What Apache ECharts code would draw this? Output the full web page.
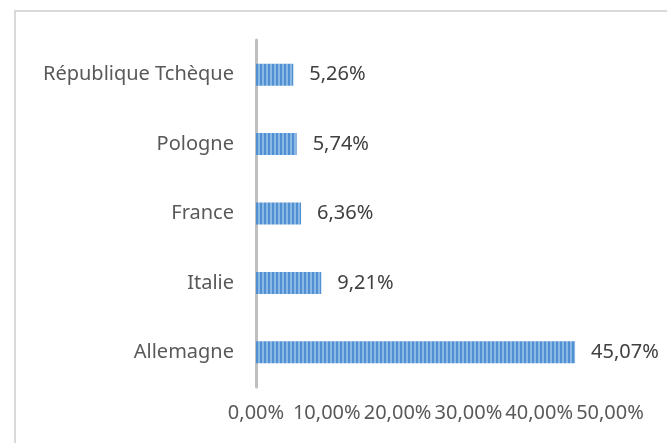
<!DOCTYPE html>
<html>
<head>
<meta charset="utf-8">
<script src="https://cdn.jsdelivr.net/npm/echarts@6/dist/echarts.min.js"></script>
<style>
  html, body { margin: 0; padding: 0; background: #fff; }
  #chart { width: 667px; height: 443px; }
</style>
</head>
<body>
<div id="chart"></div>
<script>
// pays, du bas vers le haut
const categories = ['Allemagne', 'Italie', 'France', 'Pologne', 'République Tchèque'];
const values = [45.07, 9.21, 6.36, 5.74, 5.26];
const ticks = [0, 10, 20, 30, 40, 50];

const fmt = v => v.toFixed(2).replace('.', ',') + '%';

// motif à rayures verticales
const pat = document.createElement('canvas');
pat.width = 4;
pat.height = 4;
const ctx = pat.getContext('2d');
ctx.fillStyle = '#8ab8e4';
ctx.fillRect(0, 0, 4, 4);
ctx.fillStyle = '#4f8fd2';
ctx.fillRect(0, 0, 2, 4);

const chart = echarts.init(document.getElementById('chart'));
chart.setOption({
    backgroundColor: '#fff',
    animation: false,
    textStyle: { fontFamily: 'Noto Sans' },
    graphic: [{
        type: 'rect',
        shape: { x: 15, y: 11, width: 660, height: 500 },
        style: { fill: 'none', stroke: '#d9d9d9', lineWidth: 2 },
        silent: true
    }],
    grid: { left: 256, right: 57, top: 40, bottom: 56 },
    xAxis: {
        type: 'value',
        min: ticks[0],
        max: ticks[ticks.length - 1],
        interval: 10,
        axisLine: { show: false },
        axisTick: { show: false },
        splitLine: { show: false },
        axisLabel: {
            color: '#595959',
            fontSize: 20,
            margin: 16,
            formatter: v => fmt(v)
        }
    },
    yAxis: {
        type: 'category',
        data: categories,
        axisLine: { show: true, lineStyle: { color: '#bfbfbf', width: 3 } },
        axisTick: { show: false },
        axisLabel: { color: '#595959', fontSize: 20, margin: 22 }
    },
    series: [{
        type: 'bar',
        data: values,
        barWidth: 22,
        itemStyle: { color: { image: pat, repeat: 'repeat' } },
        label: {
            show: true,
            position: 'right',
            distance: 16,
            color: '#404040',
            fontSize: 20,
            formatter: p => fmt(p.value)
        }
    }]
});
</script>
</body>
</html>
